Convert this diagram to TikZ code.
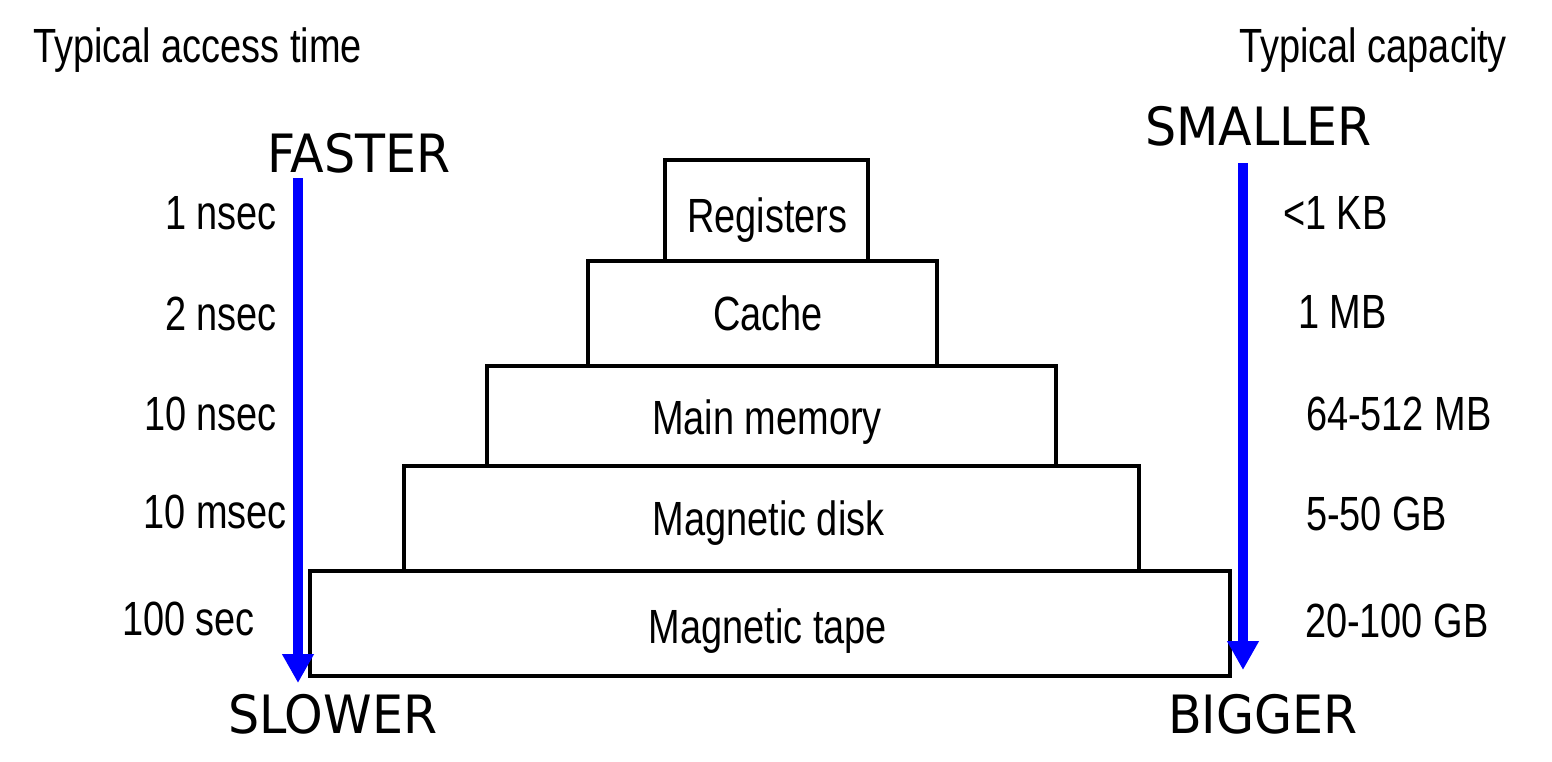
\documentclass[tikz,border=0pt]{standalone}
\usepackage{fontspec}
\usetikzlibrary{arrows.meta}
\newfontfamily\smallf[FakeStretch=0.79]{Liberation Sans}
\newfontfamily\bigf[FakeStretch=0.93]{DejaVu Sans}
\definecolor{arrowblue}{RGB}{0,0,255}
\tikzset{
  level/.style={draw=black, line width=3.6pt, fill=white, inner sep=0pt, outer sep=0pt},
  smalltext/.style={inner sep=0pt, outer sep=0pt, font=\smallf\fontsize{48}{56}\selectfont},
  boxtext/.style={smalltext, anchor=base},
  lefttext/.style={smalltext, anchor=base east},
  righttext/.style={smalltext, anchor=base west},
  bigtext/.style={anchor=base west, inner sep=0pt, outer sep=0pt, font=\bigf\fontsize{52.8}{60}\selectfont},
  trend/.style={draw=arrowblue, line width=10pt, line cap=butt, -{Triangle[width=30pt,length=29pt]}}
}
\begin{document}
\begin{tikzpicture}[x=1pt,y=-1pt]
\useasboundingbox (0,0) rectangle (1552,761);
% boxes (bottom first)
\node[level, minimum width=920pt, minimum height=105pt] (tape) at (770,623.5) {};
\node[level, minimum width=735pt, minimum height=105pt] (disk) at (771.5,518.5) {};
\node[level, minimum width=569pt, minimum height=100pt] (mem) at (771.5,416) {};
\node[level, minimum width=349pt, minimum height=105pt] (cache) at (762.5,313.5) {};
\node[level, minimum width=203pt, minimum height=101pt] (reg) at (766.5,210.5) {};
% box labels
\node[boxtext] (tReg) at (767.5,232) {Registers};
\node[boxtext] (tCache) at (768,330) {Cache};
\node[boxtext] (tMem) at (767,434) {Main memory};
\node[boxtext] (tDisk) at (768.5,535) {Magnetic disk};
\node[boxtext] (tTape) at (768,643) {Magnetic tape};
% headers
\node[smalltext, anchor=base west] (hl) at (33,62) {Typical access time};
\node[smalltext, anchor=base east] (hr) at (1507,62) {Typical capacity};
% access times
\node[lefttext] (a1) at (277,229) {1 nsec};
\node[lefttext] (a2) at (277,330) {2 nsec};
\node[lefttext] (a3) at (277,430) {10 nsec};
\node[lefttext] (a4) at (287,528) {10 msec};
\node[lefttext] (a5) at (255,635) {100 sec};
% capacities
\node[righttext] (c1) at (1283,229) {<1 KB};
\node[righttext] (c2) at (1298,328) {1 MB};
\node[righttext] (c3) at (1306,430) {64-512 MB};
\node[righttext] (c4) at (1306,530) {5-50 GB};
\node[righttext] (c5) at (1305,637) {20-100 GB};
% big labels
\node[bigtext] (fast) at (267,172) {FASTER};
\node[bigtext] (slow) at (228,733) {SLOWER};
\node[bigtext] (small) at (1145,145) {SMALLER};
\node[bigtext] (big) at (1168,733) {BIGGER};
% arrows
\coordinate (lTop) at (298,178);
\coordinate (lTip) at (298,683);
\coordinate (rTop) at (1243,163);
\coordinate (rTip) at (1243,670);
\draw[trend] (lTop) -- (lTip);
\draw[trend] (rTop) -- (rTip);
\end{tikzpicture}
\end{document}
